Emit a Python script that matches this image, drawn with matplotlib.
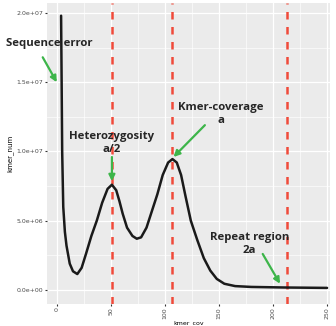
import matplotlib
matplotlib.use("Agg")
import matplotlib.pyplot as plt

# kmer coverage curve
kmer_cov = [4, 4.5, 5, 6, 7.5, 9, 12, 15, 19, 23, 27, 32, 37, 42, 47, 51, 55, 58, 61, 65,
            70, 74, 78, 83, 88, 93, 98, 103, 107, 111, 115, 119, 124, 130, 136, 142, 148,
            155, 165, 180, 210, 250]
kmer_num = [19.8, 15, 10, 6, 4.2, 3.2, 1.9, 1.35, 1.15, 1.6, 2.6, 3.9, 5.0, 6.3, 7.3, 7.6,
            7.2, 6.4, 5.5, 4.5, 3.9, 3.7, 3.8, 4.5, 5.7, 6.9, 8.3, 9.2, 9.45, 9.2, 8.3, 6.8,
            5.0, 3.6, 2.3, 1.4, 0.8, 0.45, 0.28, 0.22, 0.18, 0.15]
kmer_num = [v * 1e6 for v in kmer_num]

vlines = [51, 106.5, 213]
xticks = [0, 50, 100, 150, 200, 250]
yticks = [0, 5e6, 1e7, 1.5e7, 2e7]
ytick_labels = ["0.0e+00", "5.0e+06", "1.0e+07", "1.5e+07", "2.0e+07"]

# (label, text pos, arrow tail, arrow head)
notes = [
    ("Sequence error", (-6.5, 17.8e6), (-13, 16.8e6), (0, 15.0e6)),
    ("Heterozygosity\na/2", (51, 10.6e6), (51, 9.6e6), (51, 7.85e6)),
    ("Kmer-coverage\na", (152, 12.7e6), (137, 11.9e6), (108, 9.6e6)),
    ("Repeat region\n2a", (178, 3.3e6), (190.5, 2.6e6), (206.5, 0.45e6)),
]

fig = plt.figure(figsize=(3.36, 3.26), dpi=100)
ax = fig.add_axes([0.14, 0.068, 0.843, 0.922])
ax.set_facecolor("#EBEBEB")
for s in ax.spines.values():
    s.set_visible(False)

ax.set_xlim(-9, 253)
ax.set_ylim(-1.0e6, 2.07e7)
ax.set_xticks(xticks)
ax.set_xticks([25, 75, 125, 175, 225], minor=True)
ax.set_yticks(yticks)
ax.set_yticks([2.5e6, 7.5e6, 12.5e6, 17.5e6], minor=True)
ax.set_yticklabels(ytick_labels)
ax.grid(which="major", color="white", lw=0.9)
ax.grid(which="minor", color="white", lw=0.45)
ax.set_axisbelow(True)
ax.tick_params(which="both", length=1.5, color="#333333", labelsize=4.5,
               labelcolor="#4D4D4D", pad=1.2)
ax.tick_params(which="minor", length=0)
ax.tick_params(axis="x", labelrotation=90)
ax.set_ylabel("kmer_num", fontsize=5, labelpad=2)
ax.set_xlabel("kmer_cov", fontsize=4.5, labelpad=0.5)

for v in vlines:
    ax.axvline(v, color="#F04A3A", lw=1.8, ls=(0, (3, 3)))

ax.plot(kmer_cov, kmer_num, color="#1A1A1A", lw=1.8, solid_capstyle="round")

for label, tpos, tail, head in notes:
    ax.annotate("", xy=head, xytext=tail, annotation_clip=False,
                arrowprops=dict(arrowstyle="-|>", color="#3DB54A", lw=1.6,
                                mutation_scale=9, shrinkA=0, shrinkB=0))
    ax.text(tpos[0], tpos[1], label, ha="center", va="center", fontsize=8.2,
            fontweight="bold", family="Open Sans", color="#262626",
            linespacing=1.2, clip_on=False)

fig.savefig("out.png", dpi=100)
